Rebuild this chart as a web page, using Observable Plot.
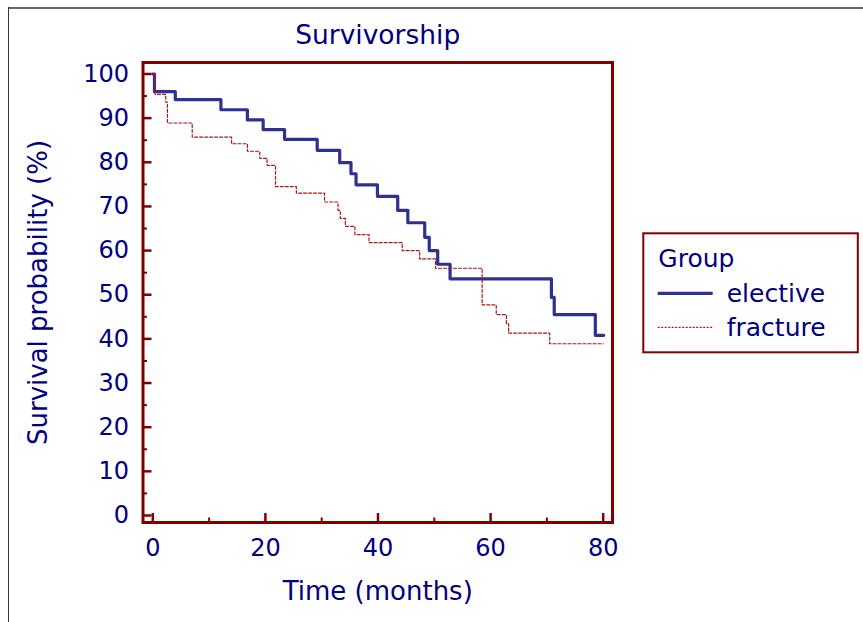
<!DOCTYPE html>
<html>
<head>
<meta charset="utf-8">
<script src="https://cdn.jsdelivr.net/npm/d3@7"></script>
<script src="https://cdn.jsdelivr.net/npm/@observablehq/plot@0.6"></script>
<style>
  html, body { margin: 0; padding: 0; background: #fff; }
  #wrap { position: relative; width: 863px; height: 622px; overflow: hidden; background: #fff; font-family: "DejaVu Sans", sans-serif; }
  #wrap > * { position: absolute; }
  .bt { left: 8px; top: 7px; width: 855px; height: 2px; background: #666; }
  .bl { left: 7.5px; top: 7px; width: 1.6px; height: 615px; background: #333; }
</style>
</head>
<body>
<div id="wrap">
  <div class="bt"></div>
  <div class="bl"></div>
</div>
<script>
// ---- data ----
const titleText = "Survivorship";
const xLabel = "Time (months)";
const yLabel = "Survival probability (%)";
const legendTitle = "Group";
const groups = ["elective", "fracture"];

const electiveTime = [0, 0.3, 4.0, 12.1, 16.8, 19.6, 23.4, 29.2, 33.2, 35.2, 36.1, 39.9, 43.5, 45.3, 48.3, 49.1, 50.6, 52.8, 70.8, 71.3, 78.6, 80.1];
const electiveSurv = [100, 96.0, 94.2, 91.9, 89.6, 87.4, 85.2, 82.7, 79.9, 77.4, 74.9, 72.3, 69.1, 66.3, 63.0, 60.0, 56.9, 53.6, 49.4, 45.5, 40.8, 40.8];

const fractureTime = [0, 0.4, 2.3, 2.6, 7.0, 14.0, 16.8, 19.0, 20.3, 21.8, 25.5, 30.5, 32.9, 33.3, 34.2, 35.9, 38.4, 44.3, 47.4, 50.2, 58.5, 61.0, 62.8, 63.2, 70.5, 80.0];
const fractureSurv = [100, 95.4, 93.6, 88.9, 85.7, 84.2, 82.5, 80.9, 79.3, 74.5, 73.0, 71.0, 69.1, 67.3, 65.5, 63.6, 61.8, 60.0, 58.1, 56.0, 47.7, 45.5, 43.4, 41.3, 38.9, 38.9];

const xMajor = [0, 20, 40, 60, 80];
const xMinor = [10, 30, 50, 70];
const yMajor = [0, 10, 20, 30, 40, 50, 60, 70, 80, 90, 100];
const yMinor = [5, 15, 25, 35, 45, 55, 65, 75, 85, 95];

const xDomain = [-1.74, 81.65];
const yDomain = [-1.59, 102.6];

// ---- styles ----
const navy = "#000080";
const axisRed = "#800000";
const blue = "#2E3192";
const red = "#B01515";

const elective = electiveTime.map((t, i) => ({t, s: electiveSurv[i], g: groups[0]}));
const fracture = fractureTime.map((t, i) => ({t, s: fractureSurv[i], g: groups[1]}));

const chart = Plot.plot({
  width: 863,
  height: 622,
  marginLeft: 142.5,
  marginRight: 251,
  marginTop: 62,
  marginBottom: 100,
  style: { fontFamily: "DejaVu Sans", background: "transparent", overflow: "visible" },
  x: { domain: xDomain },
  y: { domain: yDomain },
  marks: [
    // tick labels
    Plot.axisY(yMajor, { anchor: "left", tickSize: 0, tickPadding: 14, fill: navy, fontSize: 24, label: null }),
    Plot.axisX(xMajor, { anchor: "bottom", tickSize: 0, tickPadding: 16, fill: navy, fontSize: 24, label: null }),
    // axis titles
    Plot.text([yLabel], { text: d => d, frameAnchor: "left", rotate: -90, dx: -104.5, fontSize: 26, fill: navy, textAnchor: "middle" }),
    Plot.text([xLabel], { text: d => d, frameAnchor: "bottom", lineAnchor: "middle", dy: 69, fontSize: 26, fill: navy, textAnchor: "middle" }),
    // inward ticks
    Plot.axisY(yMajor, { anchor: "left", tickSize: -9, text: null, label: null, stroke: axisRed, strokeWidth: 2.5 }),
    Plot.axisY(yMinor, { anchor: "left", tickSize: -4.5, text: null, label: null, stroke: axisRed, strokeWidth: 2 }),
    Plot.axisX(xMajor, { anchor: "bottom", tickSize: -9, text: null, label: null, stroke: axisRed, strokeWidth: 2.5 }),
    Plot.axisX(xMinor, { anchor: "bottom", tickSize: -4.5, text: null, label: null, stroke: axisRed, strokeWidth: 2 }),
    // curves
    Plot.line(elective, { x: "t", y: "s", curve: "step-after", stroke: blue, strokeWidth: 3.2 }),
    Plot.line(fracture, { x: "t", y: "s", curve: "step-after", stroke: red, strokeWidth: 1.2, strokeDasharray: "3,2" }),
    Plot.frame({ stroke: axisRed, strokeWidth: 3 })
  ]
});
chart.style.left = "0px";
chart.style.top = "0px";
const wrap = document.getElementById("wrap");
wrap.appendChild(chart);

// Title
const tsvg = d3.create("svg").attr("width", 863).attr("height", 60)
  .style("left", "0px").style("top", "0px").style("overflow", "visible");
tsvg.append("text").attr("x", 377.7).attr("y", 44.3).attr("text-anchor", "middle")
  .attr("font-family", "DejaVu Sans").attr("font-size", 26.5).attr("fill", navy).text(titleText);
wrap.appendChild(tsvg.node());

// Legend
const lsvg = d3.create("svg").attr("width", 218).attr("height", 122)
  .style("left", "642px").style("top", "232px").style("overflow", "visible");
lsvg.append("rect").attr("x", 1.3).attr("y", 1.3).attr("width", 214.5).attr("height", 119)
  .attr("fill", "#fff").attr("stroke", axisRed).attr("stroke-width", 2);
lsvg.append("text").attr("x", 16.3).attr("y", 34.7).attr("font-family", "DejaVu Sans")
  .attr("font-size", 25).attr("fill", navy).text(legendTitle);
const items = [
  { name: groups[0], color: blue, width: 3.2, dash: null, y: 61.3 },
  { name: groups[1], color: red, width: 1.2, dash: "2,1.5", y: 95.3 }
];
items.forEach(it => {
  lsvg.append("line").attr("x1", 15.7).attr("x2", 70.7).attr("y1", it.y).attr("y2", it.y)
    .attr("stroke", it.color).attr("stroke-width", it.width).attr("stroke-dasharray", it.dash);
  lsvg.append("text").attr("x", 84.7).attr("y", it.y + 8.4).attr("font-family", "DejaVu Sans")
    .attr("font-size", 25).attr("fill", navy).text(it.name);
});
wrap.appendChild(lsvg.node());
</script>
</body>
</html>
